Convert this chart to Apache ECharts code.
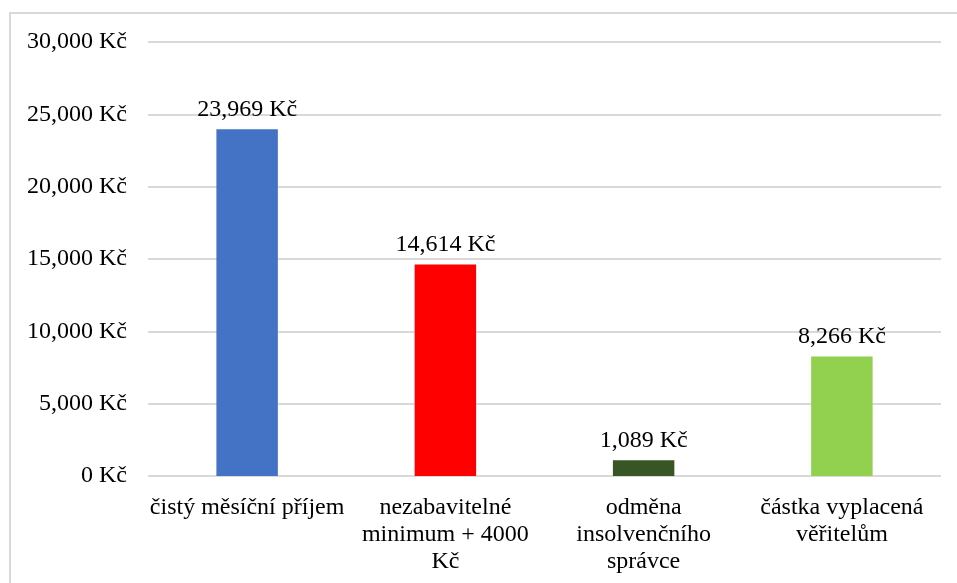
<!DOCTYPE html>
<html>
<head>
<meta charset="utf-8">
<script src="https://cdn.jsdelivr.net/npm/echarts@6/dist/echarts.min.js"></script>
<style>html,body{margin:0;padding:0;background:#fff}#c{width:957px;height:583px}</style>
</head>
<body>
<div id="c"></div>
<script>
const categories = ["čistý měsíční příjem", "nezabavitelné\nminimum + 4000\nKč", "odměna\ninsolvenčního\nsprávce", "částka vyplacená\nvěřitelům"];
const values = [23969, 14614, 1089, 8266];
const barColors = ["#4472C4", "#FF0000", "#375623", "#92D050"];

function fmt(v) {
  return String(v).replace(/\B(?=(\d{3})+(?!\d))/g, ",") + " Kč";
}

const chart = echarts.init(document.getElementById('c'), null, {renderer: 'canvas'});
chart.setOption({
  animation: false,
  textStyle: {fontFamily: "Liberation Serif"},
  graphic: [{
    type: 'rect',
    shape: {x: 10, y: 13, width: 960, height: 600},
    style: {fill: 'none', stroke: '#d9d9d9', lineWidth: 2},
    silent: true
  }],
  grid: {left: 148, right: 16, top: 42, bottom: 107},
  xAxis: {
    type: 'category',
    data: categories,
    axisLine: {show: false},
    axisTick: {show: false},
    axisLabel: {
      color: '#000', fontSize: 24, fontFamily: 'Liberation Serif',
      lineHeight: 27, margin: 18, interval: 0
    }
  },
  yAxis: {
    type: 'value',
    min: 0, max: 30000, interval: 5000,
    axisLine: {show: false},
    axisTick: {show: false},
    splitLine: {lineStyle: {color: '#d9d9d9', width: 2}},
    axisLabel: {
      color: '#000', fontSize: 24, fontFamily: 'Liberation Serif',
      margin: 21, formatter: fmt
    }
  },
  series: [{
    type: 'bar',
    barWidth: '31%',
    data: values.map((v, i) => ({value: v, itemStyle: {color: barColors[i]}})),
    label: {
      show: true, position: 'top', distance: 8,
      color: '#000', fontSize: 24, fontFamily: 'Liberation Serif',
      formatter: p => fmt(p.value)
    }
  }]
});
</script>
</body>
</html>
